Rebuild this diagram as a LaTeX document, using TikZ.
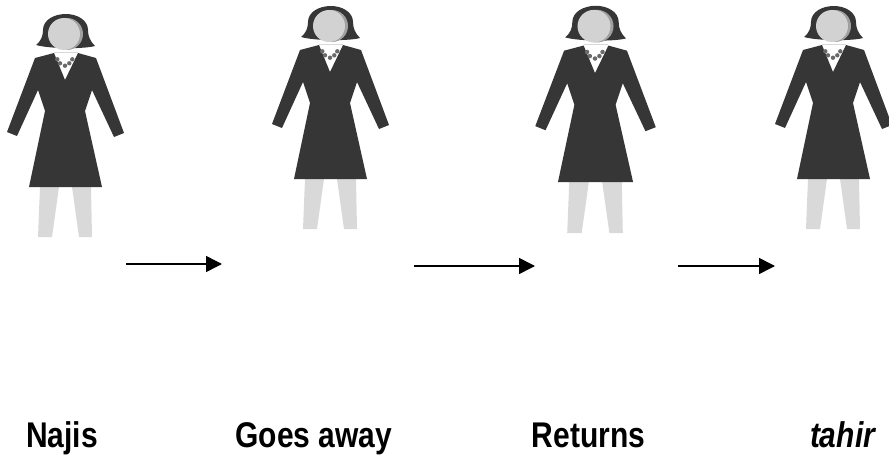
\documentclass[tikz,border=0pt]{standalone}
\usepackage{fontspec}
\setmainfont{Liberation Sans}
\usetikzlibrary{arrows.meta}

\definecolor{suitgray}{HTML}{363636}
\definecolor{leggray}{HTML}{D9D9D9}
\definecolor{facegray}{HTML}{D2D2D2}
\definecolor{shadegray}{HTML}{A0A0A0}
\definecolor{beadgray}{HTML}{6A6A6A}

\tikzset{
  caption/.style={font=\fontsize{30}{34}\selectfont\bfseries, anchor=base, yscale=1.19, transform shape},
  stagearrow/.style={-{Triangle[length=16pt,width=16pt]}, line width=1.5pt, black},
  woman/.pic={
    %% legs
    \fill[leggray] (-25,187) -- (-6,187) -- (-13,237) -- (-27,237) -- cycle;
    \fill[leggray] (7,187) -- (26,187) -- (27,237) -- (14,237) -- cycle;
    %% suit and skirt
    \fill[suitgray] (-11,53) -- (0,80) -- (13,53) -- (31,58) -- (59,133) -- (49,137)
      -- (27,90) -- (20,111) -- (37,187) -- (-36,187) -- (-20,111) -- (-27,90)
      -- (-48,136) -- (-58,132) -- (-30,58) -- cycle;
    %% hair
    \fill[suitgray] (-29,45) .. controls (-24,41) and (-22,36) .. (-22,30)
      .. controls (-22,20) and (-11,14) .. (1,14)
      .. controls (12,14) and (23,20) .. (23,30)
      .. controls (23,36) and (25,41) .. (30,46)
      .. controls (20,49) and (-15,49) .. (-29,45) -- cycle;
    %% face
    \fill[shadegray] (2,34) circle (16);
    \fill[facegray] (-1,34) circle (16);
    \draw[leggray, line width=0.8pt] (-11,52) -- (13,52);
    %% necklace
    \foreach \bx/\by in {-7.7/59.3, -5/63.3, 0/65.7, 4.3/63.3, 7.3/59.3} {
      \fill[beadgray] (\bx,\by) circle (2.2);
    }
  }
}

\begin{document}
\begin{tikzpicture}[x=1pt, y=-1pt]
\useasboundingbox (0,0) rectangle (889,455);

%% figures
\pic at (65,0) {woman};
\pic at (330,-8) {woman};
\pic[xscale=1.03, yscale=1.02] at (595,-8.5) {woman};
\pic at (833,-8) {woman};

%% arrows
\coordinate (a1s) at (126,264);
\coordinate (a1e) at (222,264);
\coordinate (a2s) at (414,266);
\coordinate (a2e) at (535,266);
\coordinate (a3s) at (678,266);
\coordinate (a3e) at (775,266);
\draw[stagearrow] (a1s) -- (a1e);
\draw[stagearrow] (a2s) -- (a2e);
\draw[stagearrow] (a3s) -- (a3e);

%% captions
\node[caption] (najis) at (62,447) {Najis};
\node[caption] (goes) at (314,447) {Goes away};
\node[caption] (returns) at (588.5,447) {Returns};
\node[caption, font=\fontsize{30}{34}\selectfont\bfseries\itshape] (tahir) at (842.5,447) {tahir};

\end{tikzpicture}
\end{document}
